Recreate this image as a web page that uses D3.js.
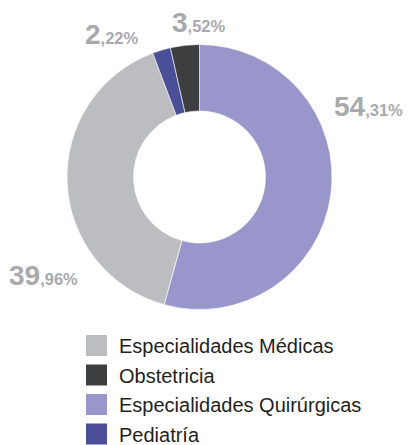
<!DOCTYPE html>
<html><head><meta charset="utf-8">
<script src="https://cdn.jsdelivr.net/npm/d3@7"></script>
<style>body{margin:0;background:#fff}svg{display:block}</style>
</head><body>
<svg id="c" width="413" height="445"></svg>
<script>
const categories = ["Especialidades Quirúrgicas", "Especialidades Médicas", "Pediatría", "Obstetricia"];
const values = [54.31, 39.96, 2.22, 3.52];
const intParts = ["54", "39", "2", "3"];
const decParts = [",31%", ",96%", ",22%", ",52%"];
const colors = ["#9896cb", "#bcbdc0", "#4b4f98", "#3d3e40"];
const legendOrder = ["Especialidades Médicas", "Obstetricia", "Especialidades Quirúrgicas", "Pediatría"];

// layout
const cx = 199.5, cy = 177, rOuter = 132.5, rInner = 66;
const labelPos = [[334, 116], [9, 285], [85, 44], [172, 32]];

const svg = d3.select("#c");
const g = svg.append("g").attr("transform", `translate(${cx},${cy})`);
const pie = d3.pie().sort(null).value(d => d)(values);
const arc = d3.arc().innerRadius(rInner).outerRadius(rOuter);
const color = d3.scaleOrdinal().domain(categories).range(colors);

g.selectAll("path").data(pie).enter().append("path")
  .attr("d", arc)
  .attr("fill", (d, i) => color(categories[i]))
  .attr("stroke", "#fff").attr("stroke-width", 0.6);

const lab = svg.selectAll("text.lab").data(pie).enter().append("text")
  .attr("class", "lab")
  .attr("x", (d, i) => labelPos[i][0]).attr("y", (d, i) => labelPos[i][1])
  .attr("font-family", "Liberation Sans, Arial, sans-serif")
  .attr("font-weight", "bold").attr("fill", "#a8a9ad");
lab.append("tspan").attr("font-size", 28).text((d, i) => intParts[i]);
lab.append("tspan").attr("font-size", 16.5).text((d, i) => decParts[i]);

const y = d3.scaleBand().domain(legendOrder).range([335, 453]).paddingInner(0);
const lg = svg.selectAll("g.lg").data(legendOrder).enter().append("g").attr("class", "lg")
  .attr("transform", d => `translate(86,${y(d)})`);
lg.append("rect").attr("width", 21).attr("height", 21).attr("fill", d => color(d));
lg.append("text").attr("x", 33).attr("y", 18)
  .attr("font-family", "Liberation Sans, Arial, sans-serif").attr("font-size", 20)
  .attr("fill", "#231f20").text(d => d);
</script>
</body></html>
